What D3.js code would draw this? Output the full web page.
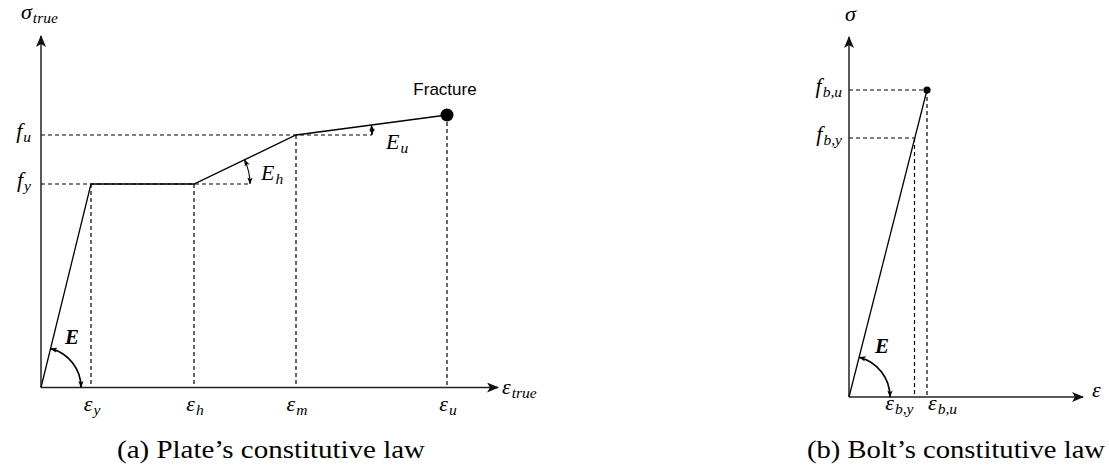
<!DOCTYPE html>
<html>
<head>
<meta charset="utf-8">
<script src="https://cdn.jsdelivr.net/npm/d3@7"></script>
<style>
  body { margin: 0; background: #fff; }
  svg { display: block; }
  .math { font-family: "Liberation Serif", "DejaVu Serif", serif; font-style: italic; fill: #000; }
  .cap { font-family: "Liberation Serif", "DejaVu Serif", serif; fill: #000; }
</style>
</head>
<body>
<svg id="fig" width="1109" height="470"></svg>
<script>
// Plate: true stress-strain law (elastic, plateau, hardening, softening up to fracture)
const plateStrain = [0, 1.0, 3.06, 5.1, 8.12];
const plateStress = [0, 4.07, 4.07, 5.05, 5.45];
const plateStrainTicks = ["y", "h", "m", "u"];
const plateStressTicks = [{ sub: "y", value: 4.07 }, { sub: "u", value: 5.05 }];

// Bolt: linear law up to rupture
const boltStrain = [0, 7.8];
const boltStress = [0, 30.7];
const boltYieldStrain = 6.55;
const boltYieldStress = 25.9;

const captions = ["(a) Plate\u2019s constitutive law", "(b) Bolt\u2019s constitutive law"];

const svg = d3.select("#fig");
const defs = svg.append("defs");

// filled triangle for the axes
defs.append("marker").attr("id", "axisHead")
  .attr("viewBox", "0 0 12 10").attr("refX", 11).attr("refY", 5)
  .attr("markerUnits", "userSpaceOnUse").attr("markerWidth", 12).attr("markerHeight", 10)
  .attr("orient", "auto")
  .append("path").attr("d", "M0,0 L12,5 L0,10 L3,5 Z").attr("fill", "#111");

// small arrowheads for the modulus arcs
defs.append("marker").attr("id", "arcHead")
  .attr("viewBox", "0 0 8 6").attr("refX", 7.5).attr("refY", 3)
  .attr("markerUnits", "userSpaceOnUse").attr("markerWidth", 7).attr("markerHeight", 6)
  .attr("orient", "auto-start-reverse")
  .append("path").attr("d", "M0,0 L8,3 L0,6 L2,3 Z").attr("fill", "#000");

const dash = "4,3";

function axes(g, x, y, xMax, yMax) {
  g.append("line").attr("x1", x(0)).attr("y1", y(0)).attr("x2", x(0)).attr("y2", y(yMax))
    .attr("stroke", "#222").attr("stroke-width", 1.5).attr("marker-end", "url(#axisHead)");
  g.append("line").attr("x1", x(0)).attr("y1", y(0)).attr("x2", x(xMax)).attr("y2", y(0))
    .attr("stroke", "#222").attr("stroke-width", 1.5).attr("marker-end", "url(#axisHead)");
}

function dashed(g, x1, y1, x2, y2) {
  g.append("line").attr("x1", x1).attr("y1", y1).attr("x2", x2).attr("y2", y2)
    .attr("stroke", "#000").attr("stroke-width", 1.2).attr("stroke-dasharray", dash);
}

// symbol with an italic subscript
function mathLabel(g, x, y, main, sub, anchor, size, subSize) {
  const t = g.append("text").attr("class", "math").attr("x", x).attr("y", y)
    .attr("text-anchor", anchor || "middle").style("font-size", (size || 22) + "px");
  t.append("tspan").text(main);
  if (sub) t.append("tspan").attr("dx", 1).attr("dy", 4).style("font-size", (subSize || 15.5) + "px").text(sub);
  return t;
}

// double-headed arc between two directions around a corner
function modArc(g, cx, cy, r, a0, a1, width) {
  const p = a => [cx + r * Math.cos(a), cy - r * Math.sin(a)];
  const [x0, y0] = p(a0), [x1, y1] = p(a1);
  g.append("path")
    .attr("d", `M${x0},${y0} A${r},${r} 0 0 0 ${x1},${y1}`)
    .attr("fill", "none").attr("stroke", "#000").attr("stroke-width", width || 1.1)
    .attr("marker-start", "url(#arcHead)").attr("marker-end", "url(#arcHead)");
}

/* ---------- (a) plate ---------- */
const pxMax = 9.14, pyMax = 7.03;
const px = d3.scaleLinear().domain([0, pxMax]).range([41, 498]);
const py = d3.scaleLinear().domain([0, pyMax]).range([387.5, 36]);
const ga = svg.append("g");

// guide lines
const rH = 56, rU = 76;
dashed(ga, px(0), py(plateStress[1]), px(plateStrain[2]) + rH, py(plateStress[1]));
dashed(ga, px(0), py(plateStress[3]), px(plateStrain[3]) + rU, py(plateStress[3]));
plateStrain.slice(1).forEach((e, i) => dashed(ga, px(e), py(plateStress[i + 1]), px(e), py(0)));

axes(ga, px, py, pxMax, pyMax);

const pts = plateStrain.map((e, i) => [px(e), py(plateStress[i])]);
ga.append("path").attr("d", d3.line()(pts))
  .attr("fill", "none").attr("stroke", "#000").attr("stroke-width", 1.3);

// fracture point
ga.append("circle").attr("cx", pts[4][0]).attr("cy", pts[4][1]).attr("r", 6.5).attr("fill", "#000");
ga.append("text").attr("x", pts[4][0] - 2).attr("y", pts[4][1] - 20)
  .attr("text-anchor", "middle")
  .style("font-family", "'Liberation Sans', Arial, sans-serif").style("font-size", "17px")
  .text("Fracture");

// modulus arcs
const angE = Math.atan2(pts[0][1] - pts[1][1], pts[1][0] - pts[0][0]);
const angH = Math.atan2(pts[2][1] - pts[3][1], pts[3][0] - pts[2][0]);
const angU = Math.atan2(pts[3][1] - pts[4][1], pts[4][0] - pts[3][0]);
modArc(ga, pts[0][0], pts[0][1], 40, 0, angE, 1.7);
modArc(ga, pts[2][0], pts[2][1], rH, 0, angH, 1.1);
modArc(ga, pts[3][0], pts[3][1], rU, 0, angU, 1.1);

ga.append("text").attr("class", "math").attr("x", 65).attr("y", 344)
  .style("font-size", "21px").style("font-weight", "bold").text("E");
mathLabel(ga, 261, 180, "E", "h", "start");
mathLabel(ga, 386, 149, "E", "u", "start");

// tick labels
plateStrainTicks.forEach((s, i) => mathLabel(ga, px(plateStrain[i + 1]) + 1, 411, "\u03b5", s, "middle"));
plateStressTicks.forEach(d => mathLabel(ga, 31, py(d.value) + 3, "f", d.sub, "end"));

mathLabel(ga, 502, 394, "\u03b5", "true", "start");
mathLabel(ga, 21, 19, "\u03c3", "true", "start");

/* ---------- (b) bolt ---------- */
const bxMax = 23.4, byMax = 36.0;
const bx = d3.scaleLinear().domain([0, bxMax]).range([849, 1083]);
const by = d3.scaleLinear().domain([0, byMax]).range([397, 37]);
const gb = svg.append("g");

dashed(gb, bx(0), by(boltStress[1]), bx(boltStrain[1]), by(boltStress[1]));
dashed(gb, bx(0), by(boltYieldStress), bx(boltYieldStrain), by(boltYieldStress));
dashed(gb, bx(boltYieldStrain), by(boltYieldStress), bx(boltYieldStrain), by(0));
dashed(gb, bx(boltStrain[1]), by(boltStress[1]), bx(boltStrain[1]), by(0));

axes(gb, bx, by, bxMax, byMax);

const bpts = boltStrain.map((e, i) => [bx(e), by(boltStress[i])]);
gb.append("path").attr("d", d3.line()(bpts))
  .attr("fill", "none").attr("stroke", "#000").attr("stroke-width", 1.3);
gb.append("circle").attr("cx", bpts[1][0]).attr("cy", bpts[1][1]).attr("r", 3.6).attr("fill", "#000");

const angB = Math.atan2(bpts[0][1] - bpts[1][1], bpts[1][0] - bpts[0][0]);
modArc(gb, bpts[0][0], bpts[0][1], 41, 0, angB, 1.7);
gb.append("text").attr("class", "math").attr("x", 875).attr("y", 353)
  .style("font-size", "21px").style("font-weight", "bold").text("E");

mathLabel(gb, bx(boltYieldStrain) - 1, 410, "\u03b5", "b,y", "end");
mathLabel(gb, bx(boltStrain[1]) + 1, 410, "\u03b5", "b,u", "start");
mathLabel(gb, 842, by(boltStress[1]) + 3, "f", "b,u", "end");
mathLabel(gb, 842, by(boltYieldStress) + 3, "f", "b,y", "end");
mathLabel(gb, 1092, 397, "\u03b5", null, "start");
mathLabel(gb, 845, 21, "\u03c3", null, "start");

/* ---------- captions ---------- */
svg.append("text").attr("class", "cap").attr("x", 117).attr("y", 458)
  .style("font-size", "25px").attr("textLength", 308).attr("lengthAdjust", "spacingAndGlyphs")
  .text(captions[0]);
svg.append("text").attr("class", "cap").attr("x", 807).attr("y", 458)
  .style("font-size", "25px").attr("textLength", 298).attr("lengthAdjust", "spacingAndGlyphs")
  .text(captions[1]);
</script>
</body>
</html>
